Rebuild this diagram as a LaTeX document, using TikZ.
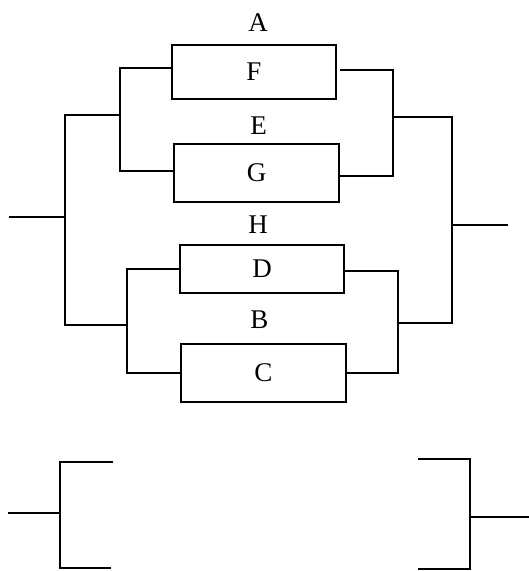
\documentclass[tikz,border=0pt]{standalone}
\usepackage{fontspec}
\setmainfont{Liberation Serif}
\usepackage{tikz}
\usetikzlibrary{positioning}

\tikzset{
  blk/.style={draw, line width=1.8pt, inner sep=0pt, minimum width=164pt},
  lbl/.style={inner sep=0pt, outer sep=0pt},
  wire/.style={line width=1.8pt}
}

\begin{document}
\begin{tikzpicture}[x=1pt, y=-1pt, font=\fontsize{27}{32}\selectfont]
\useasboundingbox (0,0) rectangle (529,571);

% blocks
\node[blk, minimum height=54pt] (F) at (254,72) {F};
\node[blk, minimum height=58pt, minimum width=165pt] (G) at (256.5,173) {G};
\node[blk, minimum height=48pt] (D) at (262,269) {D};
\node[blk, minimum height=58pt, minimum width=165pt] (C) at (263.5,373) {C};

\node[lbl, above=13pt of F, xshift=4pt] (A) {A};
\node[lbl, above=9pt of G, xshift=2pt] (E) {E};
\node[lbl, above=11pt of D, xshift=-4pt] (H) {H};
\node[lbl, above=15pt of C, xshift=-4pt] (B) {B};

% joints
\coordinate (lt) at (120,115);
\coordinate (lb) at (127,325);
\coordinate (rt) at (393,117);
\coordinate (rb) at (398,323);
\coordinate (lin) at (65,217);
\coordinate (rout) at (452,225);
\coordinate (in) at (9,217);
\coordinate (out) at (508,225);

% left side
\draw[wire] ([yshift=4pt]F.west) -| (lt) |- ([yshift=2pt]G.west);
\draw[wire] (D.west) -| (lb) |- (C.west);
\draw[wire] (lt) -| (lin) |- (lb);
\draw[wire] (in) -- (lin);

% right side
\draw[wire] ([xshift=3pt,yshift=2pt]F.east) -| (rt) |- ([yshift=-3pt]G.east);
\draw[wire] ([yshift=-2pt]D.east) -| (rb) |- (C.east);
\draw[wire] (rt) -| (rout) |- (rb);
\draw[wire] (rout) -- (out);

% lower brackets
\coordinate (bl) at (60,513);
\coordinate (bin) at (8,513);
\coordinate (blt) at (113,462);
\coordinate (blb) at (111,568);
\draw[wire] (blt) -| (bl) |- (blb);
\draw[wire] (bin) -- (bl);

\coordinate (br) at (470,517);
\coordinate (bout) at (529,517);
\coordinate (brt) at (418,459);
\coordinate (brb) at (418,569);
\draw[wire] (brt) -| (br) |- (brb);
\draw[wire] (br) -- (bout);

\end{tikzpicture}
\end{document}
